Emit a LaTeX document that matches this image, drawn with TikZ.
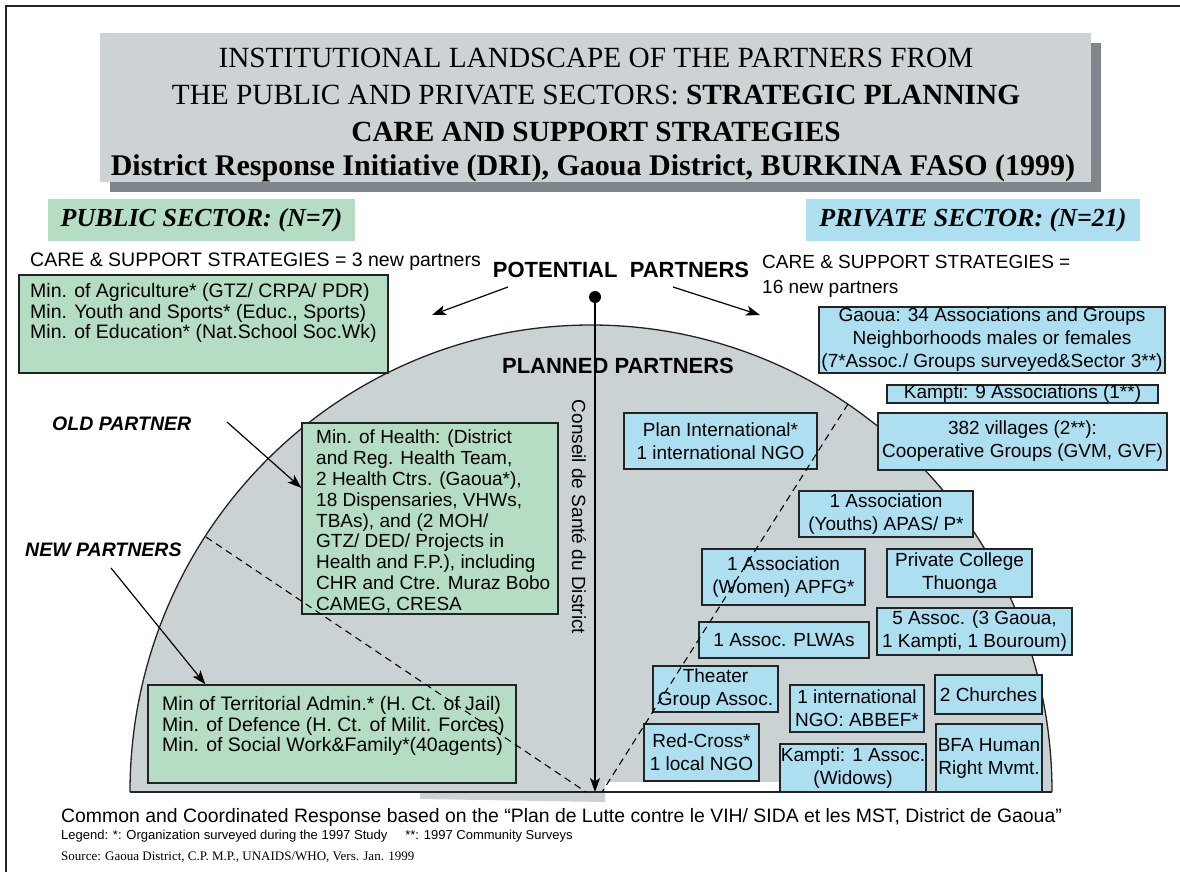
\documentclass[tikz,border=0pt]{standalone}
\usepackage{fontspec}
\setmainfont{Liberation Sans}
\newfontfamily\ttlserif{Liberation Serif}
\usetikzlibrary{arrows.meta}
\definecolor{pubgreen}{RGB}{180,221,196}
\definecolor{privblue}{RGB}{173,223,240}
\definecolor{areagray}{RGB}{203,210,212}
\definecolor{titlegray}{RGB}{205,211,213}
\definecolor{shadowgray}{RGB}{126,134,139}
\definecolor{edge}{RGB}{35,35,35}
\newcommand\fsz[2]{\fontsize{#1pt}{#2pt}\selectfont}
\begin{document}
\begin{tikzpicture}[x=1pt,y=-1pt,
  gbox/.style={draw=edge,line width=1.3pt,fill=pubgreen,inner sep=0pt},
  bbox/.style={draw=edge,line width=1.3pt,fill=privblue,inner sep=0pt,align=center,font=\fsz{19}{23}},
  ltxt/.style={inner sep=0pt,align=left,font=\fsz{19.5}{20.8},anchor=north west},
  arr/.style={line width=1.2pt,-{Stealth[length=14pt,width=10pt,inset=3.5pt]}},
  dsh/.style={line width=1.1pt,dash pattern=on 7pt off 5pt},
  ttl/.style={font=\ttlserif\fsz{29.3}{35},anchor=base,inner sep=0pt},
  sect/.style={inner sep=0pt,font=\ttlserif\bfseries\itshape\fsz{26}{30}},
]
\useasboundingbox (0,0) rectangle (1180,872);
\fill[white] (0,0) rectangle (1180,872);
% frame
\draw[line width=2.8pt,edge] (6,872) -- (6,6) -- (1180,6);

% title
\fill[shadowgray] (110,43) rectangle (1101,192);
\node[fill=titlegray,minimum width=991pt,minimum height=149pt,inner sep=0pt] (titlebox) at (595.5,107.5) {};
\node[ttl] (t1) at (596,67.5) {INSTITUTIONAL LANDSCAPE OF THE PARTNERS FROM};
\node[ttl] (t2) at (596,105) {THE PUBLIC AND PRIVATE SECTORS: \textbf{STRATEGIC PLANNING}};
\node[ttl] (t3) at (596,141.5) {\bfseries CARE AND SUPPORT STRATEGIES};
\node[ttl,font=\ttlserif\bfseries\fsz{30}{35}] (t4) at (593,175) {District Response Initiative (DRI), Gaoua District, BURKINA FASO (1999)};

% sector headers
\node[sect,fill=pubgreen,minimum width=307pt,minimum height=42pt] (pub) at (201.5,220) {PUBLIC SECTOR: (N=7)};
\node[sect,fill=privblue,minimum width=334pt,minimum height=42pt] (priv) at (973,220) {PRIVATE SECTOR: (N=21)};

\node[anchor=west,inner sep=0pt,font=\fsz{19.5}{22}] (care1) at (30,262) {CARE \& SUPPORT STRATEGIES = 3 new partners};
\node[anchor=north west,align=left,inner sep=0pt,font=\fsz{19}{25}] (care2) at (762,255) {CARE \& SUPPORT STRATEGIES =\\16 new partners};
\node[inner sep=0pt,font=\bfseries\fsz{22}{26}] (pot) at (621,270) {POTENTIAL\ \ PARTNERS};

% planned area
\fill[areagray] (130,792) arc[start angle=180,end angle=0,x radius=461pt,y radius=467pt] -- cycle;
\fill[areagray] (420,792) -- (605,792) -- (605,802) -- (420,799) -- cycle;
\fill[white] (605,782) rectangle (780,791);
\draw[line width=1.3pt,edge] (130,792) arc[start angle=180,end angle=0,x radius=461pt,y radius=467pt];
\node[inner sep=0pt,font=\bfseries\fsz{22}{26}] (planned) at (618,366) {PLANNED PARTNERS};
\node[rotate=-90,inner sep=0pt,font=\fsz{19}{22}] (conseil) at (579,517) {Conseil de Sant\'e du District};

% public boxes
\node[gbox,minimum width=369pt,minimum height=98pt] (agri) at (203.5,324) {};
\node[ltxt] (agritxt) at (30,283) {Min. of Agriculture* (GTZ/ CRPA/ PDR)\\Min. Youth and Sports* (Educ., Sports)\\Min. of Education* (Nat.School Soc.Wk)};
\node[gbox,minimum width=256pt,minimum height=191pt] (health) at (430,518.5) {};
\node[ltxt,font=\fsz{19}{20.8}] (healthtxt) at (316,430) {Min. of Health: (District\\and Reg. Health Team,\\2 Health Ctrs. (Gaoua*),\\18 Dispensaries, VHWs,\\TBAs), and (2 MOH/\\GTZ/ DED/ Projects in\\Health and F.P.), including\\CHR and Ctre. Muraz Bobo\\CAMEG, CRESA};
\node[gbox,minimum width=368pt,minimum height=98pt] (terr) at (332,734) {};
\node[ltxt] (terrtxt) at (162,696) {Min of Territorial Admin.* (H. Ct. of Jail)\\Min. of Defence (H. Ct. of Milit. Forces)\\Min. of Social Work\&Family*(40agents)};

\node[anchor=west,inner sep=0pt,font=\bfseries\itshape\fsz{19.5}{22}] (old) at (52,424) {OLD PARTNER};
\node[anchor=west,inner sep=0pt,font=\bfseries\itshape\fsz{19.5}{22}] (new) at (25,550) {NEW PARTNERS};

% private boxes
\node[bbox,minimum width=346pt,minimum height=66pt] (gaoua) at (992,340) {Gaoua: 34 Associations and Groups\\Neighborhoods males or females\\(7*Assoc./ Groups surveyed\&Sector 3**)};
\node[bbox,minimum width=271pt,minimum height=18pt,text height=13.5pt,text depth=4pt] (kampti) at (1022.5,394) {Kampti: 9 Associations (1**)};
\node[bbox,minimum width=193pt,minimum height=56pt] (plan) at (720.5,441) {Plan International*\\1 international NGO};
\node[bbox,minimum width=289pt,minimum height=57pt] (villages) at (1022.5,441.5) {382 villages (2**):\\Cooperative Groups (GVM, GVF)};
\node[bbox,minimum width=174pt,minimum height=46pt] (youths) at (886,514) {1 Association\\(Youths) APAS/ P*};
\node[bbox,minimum width=163pt,minimum height=56pt] (women) at (783.5,577) {1 Association\\(Women) APFG*};
\node[bbox,minimum width=145pt,minimum height=48pt] (college) at (959.5,573) {Private College\\Thuonga};
\node[bbox,minimum width=195pt,minimum height=47pt] (five) at (974.5,631.5) {5 Assoc. (3 Gaoua,\\1 Kampti, 1 Bouroum)};
\node[bbox,minimum width=170pt,minimum height=36pt] (plwa) at (784,640) {1 Assoc. PLWAs};
\node[bbox,minimum width=125pt,minimum height=46pt] (theater) at (715.5,689) {Theater\\Group Assoc.};
\node[bbox,minimum width=134pt,minimum height=47pt] (abbef) at (857,708.5) {1 international\\NGO: ABBEF*};
\node[bbox,minimum width=107pt,minimum height=39pt] (churches) at (988.5,694.5) {2 Churches};
\node[bbox,minimum width=115pt,minimum height=57pt] (redcross) at (701.5,752.5) {Red-Cross*\\1 local NGO};
\node[bbox,minimum width=146pt,minimum height=48pt] (widows) at (853,768) {Kampti: 1 Assoc.\\(Widows)};
\node[bbox,minimum width=106pt,minimum height=68pt] (bfa) at (989,758) {BFA Human\\Right Mvmt.};

% baseline
\draw[line width=1.5pt,edge] (130,792) -- (1052,792);

% dashed separators
\coordinate (dla) at (206,537);
\coordinate (dlb) at (586,792);
\coordinate (dra) at (848,404);
\coordinate (drb) at (602,792);
\draw[dsh] (dla) -- (dlb);
\draw[dsh] (dra) -- (drb);

% central axis
\node[circle,fill=black,minimum size=12pt,inner sep=0pt] (dot) at (595,297) {};
\coordinate (apex) at (595,792);
\draw[arr] (dot.center) -- (apex);

% arrows
\coordinate (pl1) at (508,287);
\coordinate (pl2) at (432,315);
\coordinate (pr1) at (673,287);
\coordinate (pr2) at (760,315);
\draw[arr] (pl1) -- (pl2);
\draw[arr] (pr1) -- (pr2);
\coordinate (olds) at (227,422);
\draw[arr] (olds) -- ([yshift=30.5pt]health.west);
\coordinate (news) at (111,568);
\draw[arr] (news) -- ([xshift=58pt]terr.north west);

% footer
\node[anchor=west,inner sep=0pt,font=\fsz{19.4}{22}] (common) at (61,817) {Common and Coordinated Response based on the “Plan de Lutte contre le VIH/ SIDA et les MST, District de Gaoua”};
\node[anchor=west,inner sep=0pt,font=\fsz{13}{15}] (legend) at (61,836) {Legend: *: Organization surveyed during the 1997 Study\hspace{18pt}**: 1997 Community Surveys};
\node[anchor=west,inner sep=0pt,font=\ttlserif\fsz{13}{15}] (source) at (61,857) {Source: Gaoua District, C.P. M.P., UNAIDS/WHO, Vers. Jan. 1999};
\end{tikzpicture}
\end{document}
